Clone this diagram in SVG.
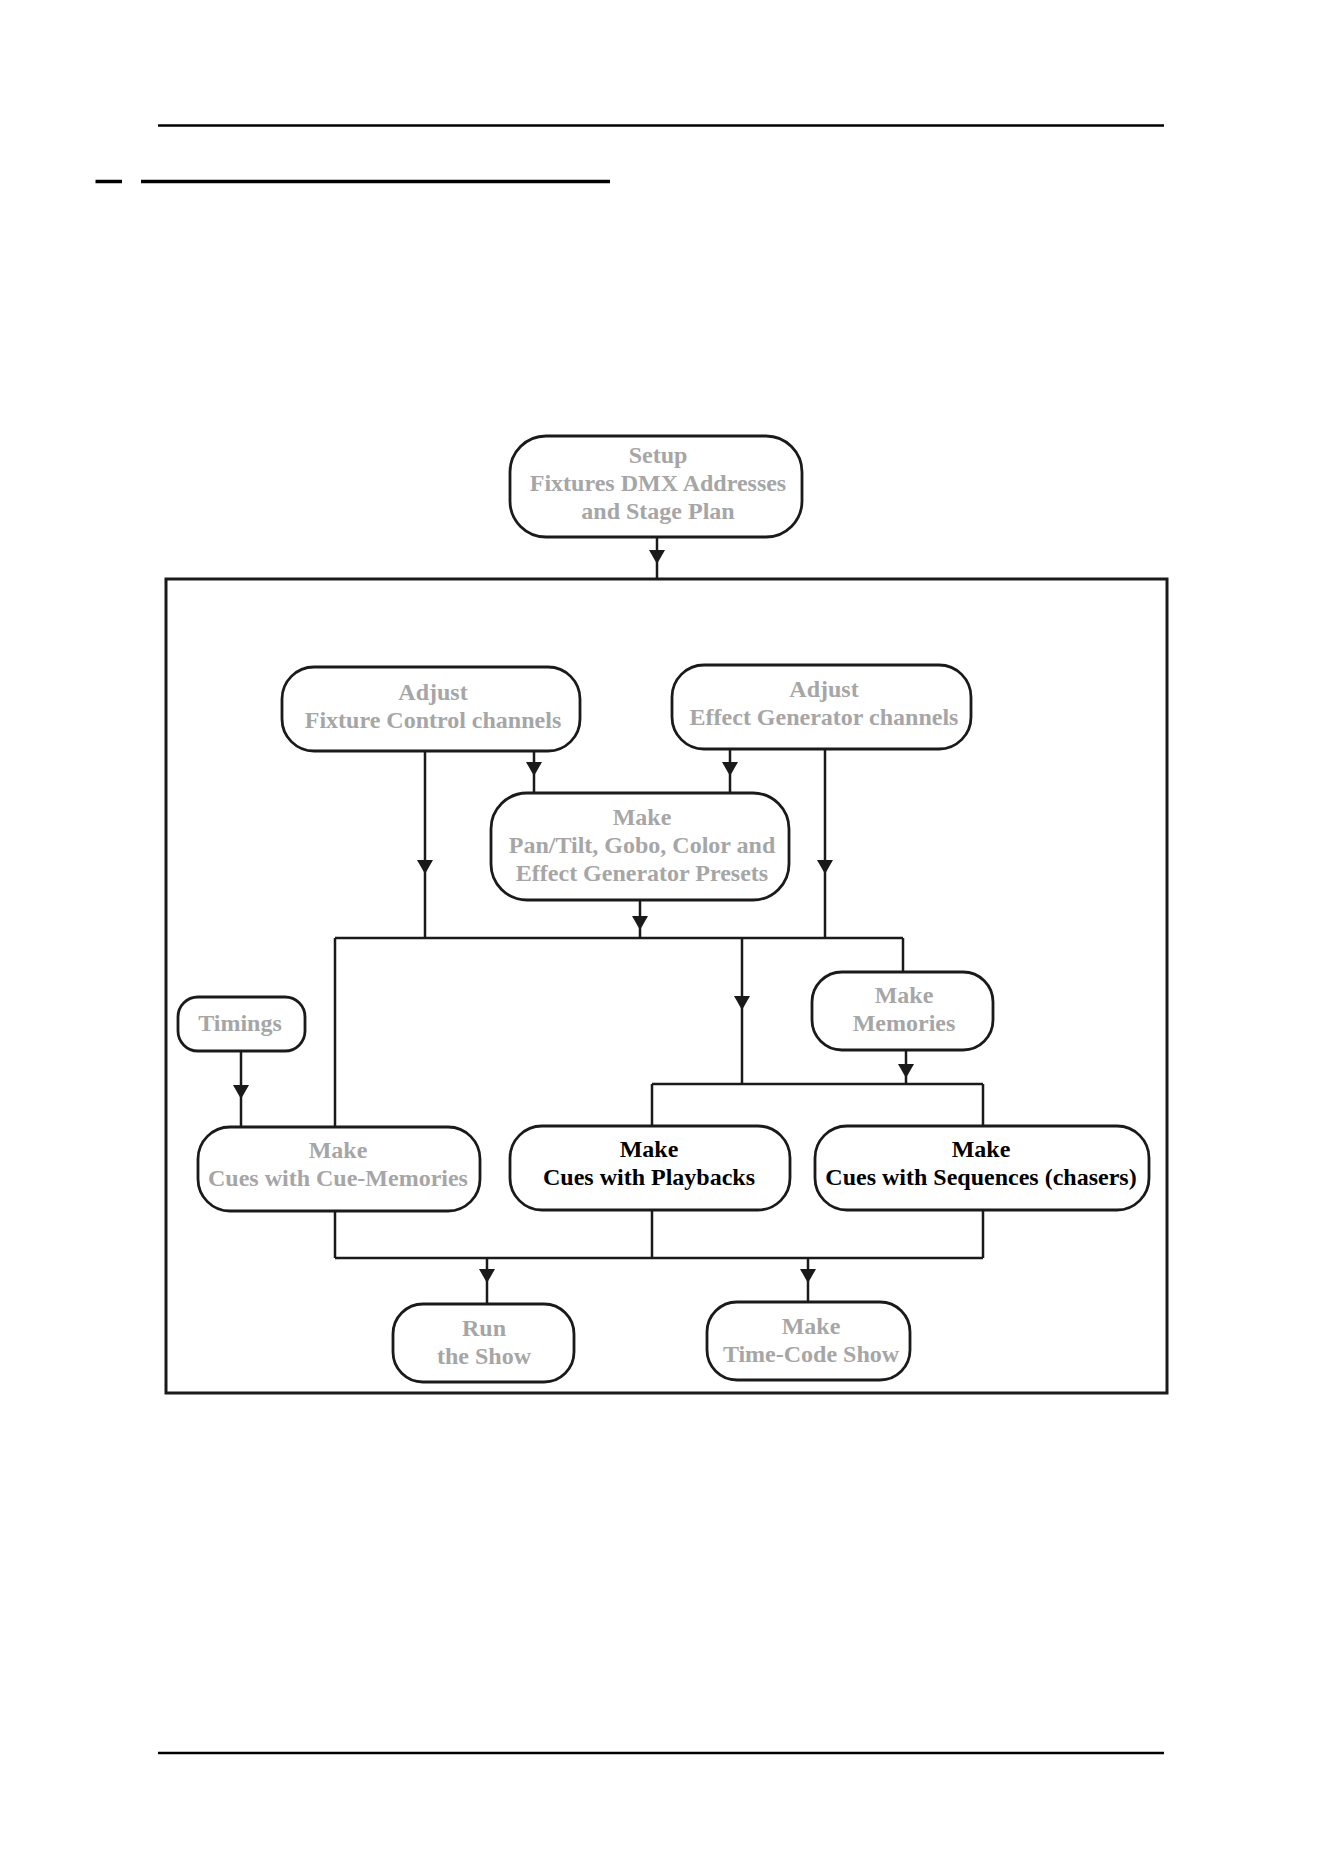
<svg xmlns="http://www.w3.org/2000/svg" xmlns:xlink="http://www.w3.org/1999/xlink" width="1323" height="1872" viewBox="0 0 1323 1872">
<style>
.bg{fill:#ffffff}
.rule{stroke:#000;fill:none}
.box{fill:#fff;stroke:#1a1a1a;stroke-width:2.8}
.frame{fill:none;stroke:#1a1a1a;stroke-width:3}
.conn{fill:none;stroke:#1a1a1a;stroke-width:2.5}
.ah{fill:#1a1a1a}
text{font-family:"Liberation Serif","Times New Roman",serif;font-weight:bold;font-size:24px;text-anchor:middle}
.g{fill:#a6a6a6}
.k{fill:#000}
</style>
<defs>
<path id="ah" d="M-8,-14 L8,-14 L0,0 Z"/>
</defs>
<rect class="bg" x="0" y="0" width="1323" height="1872"/>
<g id="page-rules">
<line class="rule" x1="158" y1="125.5" x2="1164" y2="125.5" stroke-width="2.5"/>
<line class="rule" x1="95.5" y1="181.5" x2="122" y2="181.5" stroke-width="3.5"/>
<line class="rule" x1="141" y1="181.5" x2="610" y2="181.5" stroke-width="3.5"/>
<line class="rule" x1="158" y1="1753" x2="1164" y2="1753" stroke-width="2.5"/>
</g>
<rect id="frame" class="frame" x="166" y="579" width="1001" height="814"/>
<g id="connectors">
<path class="conn" d="M657,537 V579"/>
<path class="conn" d="M425,751 V938 M534,751 V793 M730,749 V793 M825,749 V938 M640,900 V938"/>
<path class="conn" d="M335,938 H903 M335,938 V1126 M742,938 V1084 M903,938 V972"/>
<path class="conn" d="M906,1050 V1084 M652,1084 H983 M652,1084 V1126 M983,1084 V1126"/>
<path class="conn" d="M241,1051 V1126"/>
<path class="conn" d="M335,1211 V1258 M652,1210 V1258 M983,1210 V1258 M335,1258 H983 M487,1258 V1304 M808,1258 V1302"/>
<use class="ah" href="#ah" xlink:href="#ah" x="657" y="564"/>
<use class="ah" href="#ah" xlink:href="#ah" x="425" y="874"/>
<use class="ah" href="#ah" xlink:href="#ah" x="534" y="776"/>
<use class="ah" href="#ah" xlink:href="#ah" x="730" y="776"/>
<use class="ah" href="#ah" xlink:href="#ah" x="825" y="874"/>
<use class="ah" href="#ah" xlink:href="#ah" x="640" y="930"/>
<use class="ah" href="#ah" xlink:href="#ah" x="742" y="1010"/>
<use class="ah" href="#ah" xlink:href="#ah" x="906" y="1078"/>
<use class="ah" href="#ah" xlink:href="#ah" x="241" y="1099"/>
<use class="ah" href="#ah" xlink:href="#ah" x="487" y="1283"/>
<use class="ah" href="#ah" xlink:href="#ah" x="808" y="1283"/>
</g>
<g id="setup">
<rect class="box" x="510" y="436" width="292" height="101" rx="36"/>
<text class="g" x="658" y="463">Setup</text>
<text class="g" x="658" y="491">Fixtures DMX Addresses</text>
<text class="g" x="658" y="519">and Stage Plan</text>
</g>
<g id="adjust-fixture">
<rect class="box" x="282" y="667" width="298" height="84" rx="32"/>
<text class="g" x="433" y="700">Adjust</text>
<text class="g" x="433" y="728">Fixture Control channels</text>
</g>
<g id="adjust-effect">
<rect class="box" x="672" y="665" width="299" height="84" rx="32"/>
<text class="g" x="824" y="697">Adjust</text>
<text class="g" x="824" y="725">Effect Generator channels</text>
</g>
<g id="make-presets">
<rect class="box" x="491" y="793" width="298" height="107" rx="36"/>
<text class="g" x="642" y="825">Make</text>
<text class="g" x="642" y="853">Pan/Tilt, Gobo, Color and</text>
<text class="g" x="642" y="881">Effect Generator Presets</text>
</g>
<g id="timings">
<rect class="box" x="178" y="997" width="127" height="54" rx="20"/>
<text class="g" x="240" y="1031">Timings</text>
</g>
<g id="make-memories">
<rect class="box" x="812" y="972" width="181" height="78" rx="30"/>
<text class="g" x="904" y="1003">Make</text>
<text class="g" x="904" y="1031">Memories</text>
</g>
<g id="cue-memories">
<rect class="box" x="198" y="1127" width="282" height="84" rx="32"/>
<text class="g" x="338" y="1158">Make</text>
<text class="g" x="338" y="1186">Cues with Cue-Memories</text>
</g>
<g id="playbacks">
<rect class="box" x="510" y="1126" width="280" height="84" rx="32"/>
<text class="k" x="649" y="1157">Make</text>
<text class="k" x="649" y="1185">Cues with Playbacks</text>
</g>
<g id="sequences">
<rect class="box" x="815" y="1126" width="334" height="84" rx="32"/>
<text class="k" x="981" y="1157">Make</text>
<text class="k" x="981" y="1185">Cues with Sequences (chasers)</text>
</g>
<g id="run-show">
<rect class="box" x="393" y="1304" width="181" height="78" rx="30"/>
<text class="g" x="484" y="1336">Run</text>
<text class="g" x="484" y="1364">the Show</text>
</g>
<g id="timecode-show">
<rect class="box" x="707" y="1302" width="203" height="78" rx="30"/>
<text class="g" x="811" y="1334">Make</text>
<text class="g" x="811" y="1362">Time-Code Show</text>
</g>
</svg>
